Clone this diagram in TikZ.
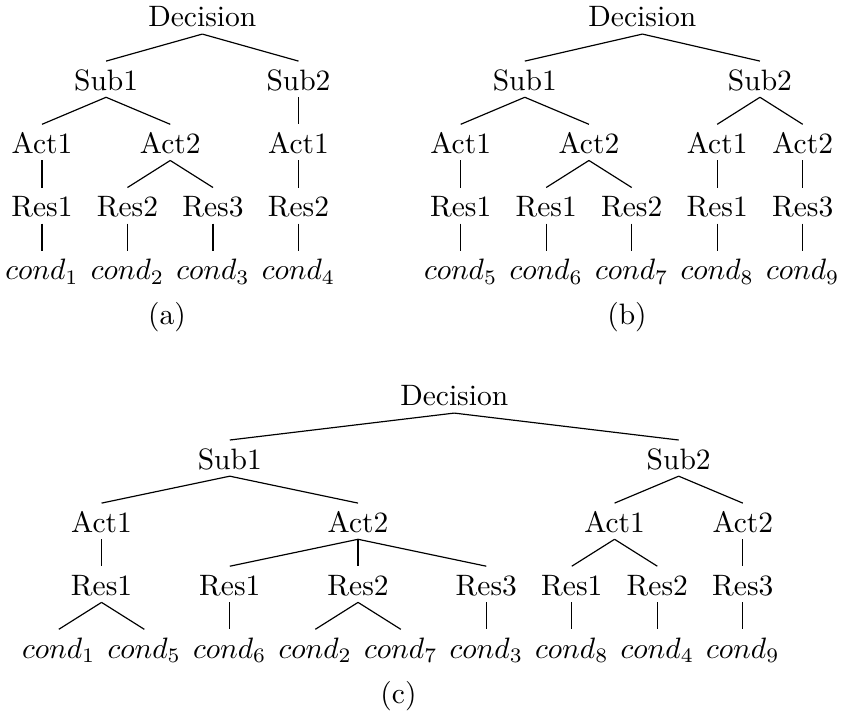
\documentclass[tikz,border=0pt]{standalone}
\begin{document}
\begin{tikzpicture}[x=0.339pt, y=-0.339pt,
  tn/.style={anchor=base, inner sep=0pt, text height=9.66pt, text depth=2.2pt},
  sublabel/.style={anchor=base, inner sep=0pt},
  branch/.style={line width=0.4pt}]
\useasboundingbox (0,0) rectangle (844,711);

% ---------- tree (a) ----------
\node[tn] (a-d)  at (202.3,27)   {Decision};
\node[tn] (a-s1) at (106.1,90.2) {Sub1};
\node[tn] (a-s2) at (298.5,90.2) {Sub2};
\node[tn] (a-a1) at (42,153.4)    {Act1};
\node[tn] (a-a2) at (170.25,153.4) {Act2};
\node[tn] (a-a3) at (298.5,153.4) {Act1};
\node[tn] (a-r1) at (42,216.6)    {Res1};
\node[tn] (a-r2) at (127.5,216.6) {Res2};
\node[tn] (a-r3) at (213,216.6)   {Res3};
\node[tn] (a-r4) at (298.5,216.6) {Res2};
\node[tn] (a-c1) at (42,279.8)    {$cond_1$};
\node[tn] (a-c2) at (127.5,279.8) {$cond_2$};
\node[tn] (a-c3) at (213,279.8)   {$cond_3$};
\node[tn] (a-c4) at (298.5,279.8) {$cond_4$};
\node[sublabel] (a-lab) at (167,324) {(a)};
\foreach \p/\c in {a-d/a-s1, a-d/a-s2, a-s1/a-a1, a-s1/a-a2, a-s2/a-a3,
                   a-a1/a-r1, a-a2/a-r2, a-a2/a-r3, a-a3/a-r4,
                   a-r1/a-c1, a-r2/a-c2, a-r3/a-c3, a-r4/a-c4}
  \draw[branch] (\p.south) -- (\c.north);

% ---------- tree (b) ----------
\node[tn] (b-d)  at (642.4,27)    {Decision};
\node[tn] (b-s1) at (524.8,90.2)  {Sub1};
\node[tn] (b-s2) at (759.95,90.2) {Sub2};
\node[tn] (b-a1) at (460.7,153.4)  {Act1};
\node[tn] (b-a2) at (588.95,153.4) {Act2};
\node[tn] (b-a3) at (717.2,153.4)  {Act1};
\node[tn] (b-a4) at (802.7,153.4)  {Act2};
\node[tn] (b-r1) at (460.7,216.6) {Res1};
\node[tn] (b-r2) at (546.2,216.6) {Res1};
\node[tn] (b-r3) at (631.7,216.6) {Res2};
\node[tn] (b-r4) at (717.2,216.6) {Res1};
\node[tn] (b-r5) at (802.7,216.6) {Res3};
\node[tn] (b-c1) at (460.7,279.8) {$cond_5$};
\node[tn] (b-c2) at (546.2,279.8) {$cond_6$};
\node[tn] (b-c3) at (631.7,279.8) {$cond_7$};
\node[tn] (b-c4) at (717.2,279.8) {$cond_8$};
\node[tn] (b-c5) at (802.7,279.8) {$cond_9$};
\node[sublabel] (b-lab) at (627,324) {(b)};
\foreach \p/\c in {b-d/b-s1, b-d/b-s2, b-s1/b-a1, b-s1/b-a2, b-s2/b-a3, b-s2/b-a4,
                   b-a1/b-r1, b-a2/b-r2, b-a2/b-r3, b-a3/b-r4, b-a4/b-r5,
                   b-r1/b-c1, b-r2/b-c2, b-r3/b-c3, b-r4/b-c4, b-r5/b-c5}
  \draw[branch] (\p.south) -- (\c.north);

% ---------- tree (c) ----------
\node[tn] (c-d)  at (454.25,406)  {Decision};
\node[tn] (c-s1) at (229.8,469.1) {Sub1};
\node[tn] (c-s2) at (678.7,469.1) {Sub2};
\node[tn] (c-a1) at (101.55,532.2) {Act1};
\node[tn] (c-a2) at (358.05,532.2) {Act2};
\node[tn] (c-a3) at (614.55,532.2) {Act1};
\node[tn] (c-a4) at (742.8,532.2)  {Act2};
\node[tn] (c-r1) at (101.55,595.3) {Res1};
\node[tn] (c-r2) at (229.8,595.3)  {Res1};
\node[tn] (c-r3) at (358.05,595.3) {Res2};
\node[tn] (c-r4) at (486.3,595.3)  {Res3};
\node[tn] (c-r5) at (571.8,595.3)  {Res1};
\node[tn] (c-r6) at (657.3,595.3)  {Res2};
\node[tn] (c-r7) at (742.8,595.3)  {Res3};
\node[tn] (c-c1) at (58.8,658.4)  {$cond_1$};
\node[tn] (c-c2) at (144.3,658.4) {$cond_5$};
\node[tn] (c-c3) at (229.8,658.4) {$cond_6$};
\node[tn] (c-c4) at (315.3,658.4) {$cond_2$};
\node[tn] (c-c5) at (400.8,658.4) {$cond_7$};
\node[tn] (c-c6) at (486.3,658.4) {$cond_3$};
\node[tn] (c-c7) at (571.8,658.4) {$cond_8$};
\node[tn] (c-c8) at (657.3,658.4) {$cond_4$};
\node[tn] (c-c9) at (742.8,658.4) {$cond_9$};
\node[sublabel] (c-lab) at (398.5,703) {(c)};
\foreach \p/\c in {c-d/c-s1, c-d/c-s2, c-s1/c-a1, c-s1/c-a2, c-s2/c-a3, c-s2/c-a4,
                   c-a1/c-r1, c-a2/c-r2, c-a2/c-r3, c-a2/c-r4, c-a3/c-r5, c-a3/c-r6, c-a4/c-r7,
                   c-r1/c-c1, c-r1/c-c2, c-r2/c-c3, c-r3/c-c4, c-r3/c-c5,
                   c-r4/c-c6, c-r5/c-c7, c-r6/c-c8, c-r7/c-c9}
  \draw[branch] (\p.south) -- (\c.north);
\end{tikzpicture}
\end{document}
